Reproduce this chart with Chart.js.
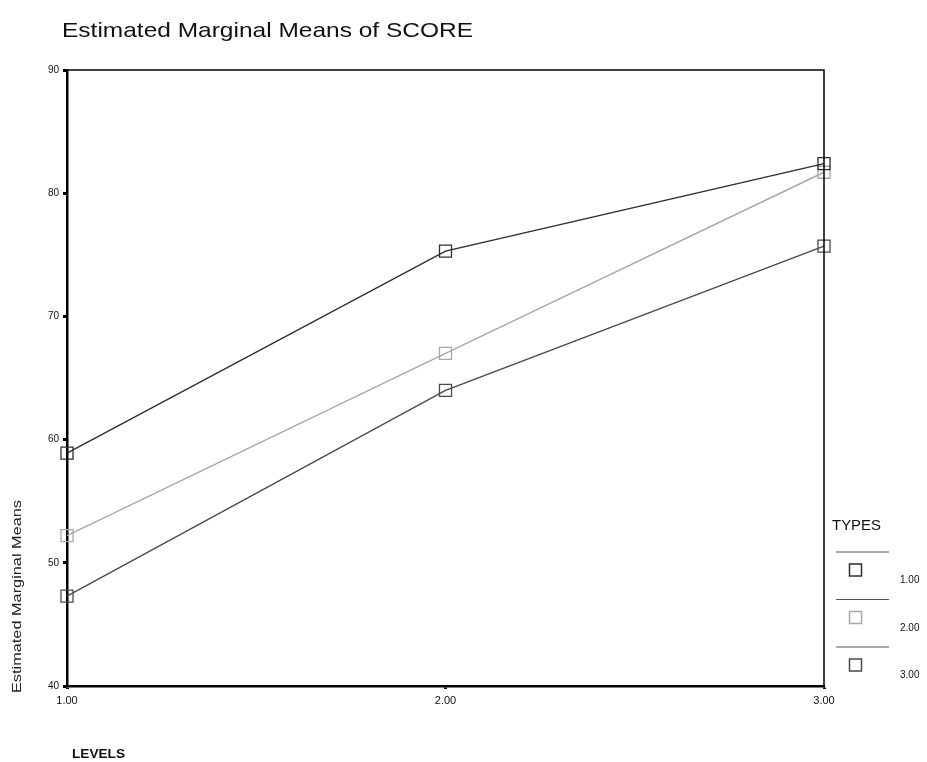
<!DOCTYPE html>
<html>
<head>
<meta charset="utf-8">
<script src="https://cdn.jsdelivr.net/npm/chart.js@4/dist/chart.umd.min.js"></script>
<style>
html,body{margin:0;padding:0;background:#fff;}
#wrap{width:927px;height:762px;position:relative;}
</style>
</head>
<body>
<div id="wrap"><canvas id="c" width="927" height="762"></canvas></div>
<script>
const levels = ['1.00', '2.00', '3.00'];
const typeLabels = ['1.00', '2.00', '3.00'];
const type1 = [58.9, 75.3, 82.4];
const type2 = [52.2, 67.0, 81.7];
const type3 = [47.3, 64.0, 75.7];
const yTicks = [40, 50, 60, 70, 80, 90];
const chartTitle = 'Estimated Marginal Means of SCORE';
const yTitle = 'Estimated Marginal Means';
const xTitle = 'LEVELS';
const legendTitle = 'TYPES';
const lineColors = ['#2e2e2e', '#a8a8a8', '#4a4a4a'];

const FONT = 'Liberation Sans, Arial, sans-serif';

function fitText(ctx, text, x, y, width) {
  const w = ctx.measureText(text).width;
  ctx.save();
  ctx.translate(x, y);
  ctx.scale(width / w, 1);
  ctx.fillText(text, 0, 0);
  ctx.restore();
}

const decor = {
  id: 'decor',
  afterDraw(chart) {
    const ctx = chart.ctx;
    const a = chart.chartArea;
    ctx.save();
    ctx.strokeStyle = '#000';
    ctx.lineWidth = 1.5;
    ctx.beginPath();
    ctx.moveTo(a.left, a.top);
    ctx.lineTo(a.right, a.top);
    ctx.lineTo(a.right, a.bottom);
    ctx.stroke();
    ctx.fillStyle = '#111';
    ctx.textBaseline = 'alphabetic';
    ctx.textAlign = 'left';
    ctx.font = '21px ' + FONT;
    fitText(ctx, chartTitle, 62, 37, 411);
    ctx.save();
    ctx.translate(21, 693);
    ctx.rotate(-Math.PI / 2);
    ctx.font = '13px ' + FONT;
    ctx.fillStyle = '#222';
    fitText(ctx, yTitle, 0, 0, 193);
    ctx.restore();
    ctx.font = 'bold 13px ' + FONT;
    ctx.fillStyle = '#111';
    fitText(ctx, xTitle, 72, 758, 53);
    ctx.font = '14px ' + FONT;
    fitText(ctx, legendTitle, 832, 530, 49);
    const ds = chart.data.datasets;
    ds.forEach((d, i) => {
      const ly = 552 + i * 47.5;
      ctx.strokeStyle = '#555';
      ctx.lineWidth = 1;
      ctx.beginPath();
      ctx.moveTo(836, ly);
      ctx.lineTo(889, ly);
      ctx.stroke();
      ctx.strokeStyle = d.borderColor;
      ctx.lineWidth = 1.5;
      ctx.strokeRect(849.5, ly + 12, 12, 12);
      ctx.fillStyle = '#111';
      ctx.font = '10px ' + FONT;
      ctx.fillText(d.label, 900, ly + 31);
    });
    ctx.restore();
  }
};

const mk = (label, data, color) => ({
  label, data,
  borderColor: color,
  backgroundColor: 'rgba(0,0,0,0)',
  borderWidth: 1.4,
  pointStyle: 'rect',
  pointRadius: 8.5,
  pointBorderWidth: 1.3,
  pointBorderColor: color,
  pointBackgroundColor: 'rgba(0,0,0,0)',
  tension: 0
});

new Chart(document.getElementById('c'), {
  type: 'line',
  data: {
    labels: levels,
    datasets: [
      mk(typeLabels[0], type1, lineColors[0]),
      mk(typeLabels[1], type2, lineColors[1]),
      mk(typeLabels[2], type3, lineColors[2])
    ]
  },
  options: {
    responsive: false,
    animation: false,
    devicePixelRatio: 1,
    layout: { padding: { top: 70, right: 103, left: 0, bottom: 0 } },
    plugins: { legend: { display: false }, tooltip: { enabled: false }, title: { display: false } },
    scales: {
      x: {
        type: 'category',
        offset: false,
        grid: { drawOnChartArea: false, tickLength: 3, tickWidth: 3, color: '#000' },
        border: { display: true, color: '#000', width: 2.5 },
        ticks: { color: '#111', font: { family: FONT, size: 11 }, padding: 5, maxRotation: 0 },
        afterFit(s) { s.height = 76; }
      },
      y: {
        min: 40, max: 90,
        afterBuildTicks(s) { s.ticks = yTicks.map(v => ({ value: v })); },
        grid: { drawOnChartArea: false, tickLength: 4, tickWidth: 3, color: '#000' },
        border: { display: true, color: '#000', width: 2.5 },
        ticks: { color: '#111', font: { family: FONT, size: 10 }, padding: 4 },
        afterFit(s) { s.width = 67; }
      }
    }
  },
  plugins: [decor]
});
</script>
</body>
</html>
